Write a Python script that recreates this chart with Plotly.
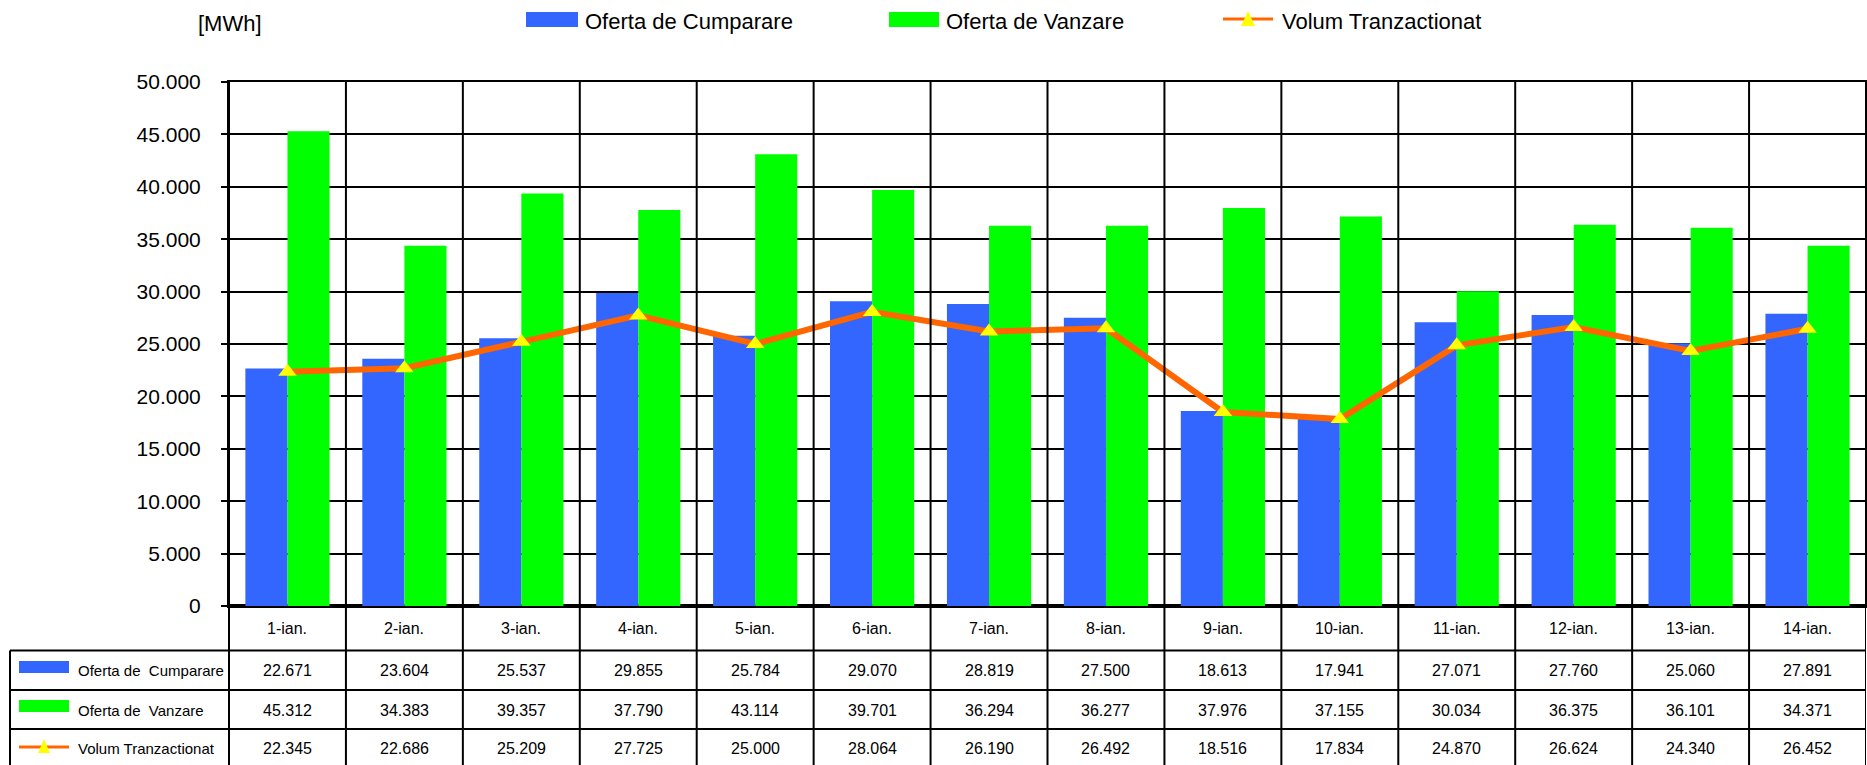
import plotly.graph_objects as go

# ---------------- data ----------------
categories = ["1-ian.", "2-ian.", "3-ian.", "4-ian.", "5-ian.", "6-ian.", "7-ian.",
              "8-ian.", "9-ian.", "10-ian.", "11-ian.", "12-ian.", "13-ian.", "14-ian."]
oferta_cumparare = [22671, 23604, 25537, 29855, 25784, 29070, 28819,
                    27500, 18613, 17941, 27071, 27760, 25060, 27891]
oferta_vanzare = [45312, 34383, 39357, 37790, 43114, 39701, 36294,
                  36277, 37976, 37155, 30034, 36375, 36101, 34371]
volum_tranzactionat = [22345, 22686, 25209, 27725, 25000, 28064, 26190,
                       26492, 18516, 17834, 24870, 26624, 24340, 26452]
series_names = ["Oferta de Cumparare", "Oferta de Vanzare", "Volum Tranzactionat"]
table_labels = ["Oferta de\u00a0 Cumparare", "Oferta de\u00a0 Vanzare", "Volum Tranzactionat"]
unit_label = "[MWh]"

BLUE = "#3366FF"
GREEN = "#00FF00"
ORANGE = "#FF6600"
YELLOW = "#FFFF00"
FONT = "Liberation Sans, Arial, sans-serif"

W, H = 1867, 765
L, R, T, B = 229, 1, 82, 159
PW, PH = W - L - R, H - T - B
Y0 = H - B  # pixel y of zero line


def px(x):
    return (x - L) / PW


def py(y):
    return (Y0 - y) / PH


def fmt(v):
    return f"{v:,}".replace(",", ".")


fig = go.Figure()
fig.add_trace(go.Bar(x=categories, y=oferta_cumparare, name=series_names[0],
                     marker=dict(color=BLUE, line=dict(width=0))))
fig.add_trace(go.Bar(x=categories, y=oferta_vanzare, name=series_names[1],
                     marker=dict(color=GREEN, line=dict(width=0))))
fig.add_trace(go.Scatter(x=categories, y=volum_tranzactionat, name=series_names[2],
                         mode="lines+markers",
                         line=dict(color=ORANGE, width=6),
                         marker=dict(symbol="triangle-up", color=YELLOW, size=16,
                                     line=dict(width=0)),
                         cliponaxis=False))

shapes = []
annotations = []
n = len(categories)
bottom = py(770)
BLK = dict(color="black", width=2)

# vertical grid / table column lines at category boundaries
for i in range(n):
    shapes.append(dict(type="line", xref="x", yref="paper", x0=i + 0.5, x1=i + 0.5,
                       y0=bottom, y1=1, line=BLK, layer="above"))
# axis line continued into table
shapes.append(dict(type="line", xref="paper", yref="paper", x0=0, x1=0, y0=bottom, y1=1,
                   line=BLK, layer="above"))
# left border of row-label column
shapes.append(dict(type="line", xref="paper", yref="paper", x0=px(10), x1=px(10),
                   y0=bottom, y1=py(650.5), line=BLK, layer="above"))
# horizontal table lines
for yy in [650.5, 690, 729]:
    shapes.append(dict(type="line", xref="paper", yref="paper", x0=px(10), x1=1,
                       y0=py(yy), y1=py(yy), line=BLK, layer="above"))


def text(x, y, s, size, xref="paper", xanchor="center"):
    annotations.append(dict(x=x, y=y, xref=xref, yref="paper", text=s,
                            xanchor=xanchor, yanchor="middle", showarrow=False,
                            font=dict(size=size, color="black", family=FONT)))


# header row (category labels) and values
row_y = [py(670), py(710), py(748)]
for c in categories:
    text(c, py(628), c, 16, xref="x")
for r, vals in enumerate([oferta_cumparare, oferta_vanzare, volum_tranzactionat]):
    for c, v in zip(categories, vals):
        text(c, row_y[r], fmt(v), 16, xref="x")
    text(px(76), row_y[r], table_labels[r], 15, xanchor="left")

# table row swatches
shapes.append(dict(type="rect", xref="paper", yref="paper", x0=px(19), x1=px(69),
                   y0=py(673), y1=py(661), fillcolor=BLUE, line=dict(width=0)))
shapes.append(dict(type="rect", xref="paper", yref="paper", x0=px(19), x1=px(69),
                   y0=py(712), y1=py(700), fillcolor=GREEN, line=dict(width=0)))
shapes.append(dict(type="line", xref="paper", yref="paper", x0=px(19), x1=px(69),
                   y0=py(747), y1=py(747), line=dict(color=ORANGE, width=3)))
shapes.append(dict(type="path", xref="paper", yref="paper",
                   path=f"M {px(38)} {py(753)} L {px(50)} {py(753)} L {px(44)} {py(739)} Z",
                   fillcolor=YELLOW, line=dict(width=0)))

# top legend
shapes.append(dict(type="rect", xref="paper", yref="paper", x0=px(526), x1=px(578),
                   y0=py(27), y1=py(12), fillcolor=BLUE, line=dict(width=0)))
text(px(583), py(21), series_names[0], 22, xanchor="left")
shapes.append(dict(type="rect", xref="paper", yref="paper", x0=px(889), x1=px(939),
                   y0=py(27), y1=py(12), fillcolor=GREEN, line=dict(width=0)))
text(px(944), py(21), series_names[1], 22, xanchor="left")
shapes.append(dict(type="line", xref="paper", yref="paper", x0=px(1223), x1=px(1273),
                   y0=py(19), y1=py(19), line=dict(color=ORANGE, width=3)))
shapes.append(dict(type="path", xref="paper", yref="paper",
                   path=f"M {px(1241)} {py(26)} L {px(1255)} {py(26)} L {px(1248)} {py(11)} Z",
                   fillcolor=YELLOW, line=dict(width=0)))
text(px(1280), py(21), series_names[2], 22, xanchor="left")

# unit label
text(px(230), py(23), unit_label, 22)

fig.update_layout(
    width=W, height=H,
    margin=dict(l=L, r=R, t=T, b=B, pad=0, autoexpand=False),
    paper_bgcolor="white", plot_bgcolor="white",
    barmode="group", bargap=0.28, bargroupgap=0,
    showlegend=False,
    separators=",.",
    font=dict(family=FONT, color="black"),
    shapes=shapes, annotations=annotations,
    xaxis=dict(type="category", range=[-0.5, n - 0.5], showticklabels=False,
               showgrid=False, zeroline=False, showline=True, linecolor="black",
               linewidth=2, mirror=True, ticks="", automargin=False),
    yaxis=dict(range=[0, 50000], dtick=5000, tick0=0, tickformat=",d",
               showgrid=True, gridcolor="black", gridwidth=2,
               zeroline=True, zerolinecolor="black", zerolinewidth=4,
               showline=True, linecolor="black", linewidth=2, mirror=True,
               ticks="outside", ticklen=6, tickwidth=2, tickcolor="black",
               ticklabelstandoff=16, automargin=False,
               tickfont=dict(size=21, color="black", family=FONT)),
)

fig.write_html("out.html",
               config={"displayModeBar": False},
               post_script="document.body.style.margin='0';document.body.style.overflow='hidden';")
